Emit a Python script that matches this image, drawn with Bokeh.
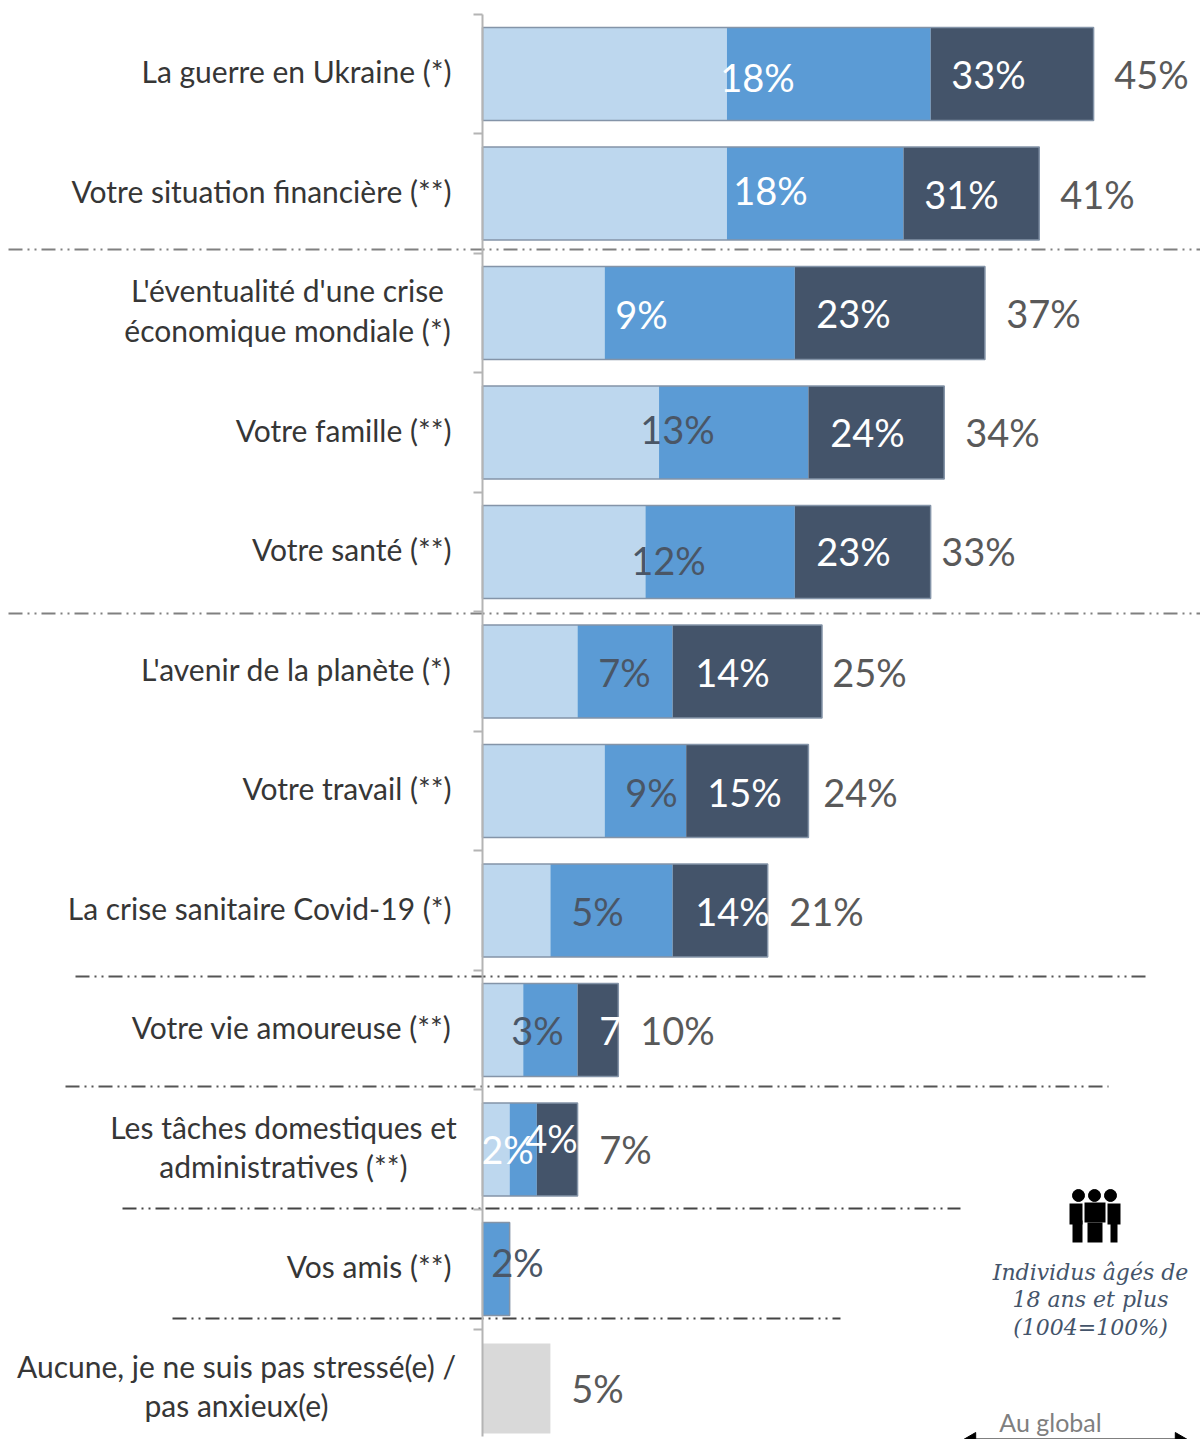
from bokeh.plotting import figure
from bokeh.models import FixedTicker, ColumnDataSource, Range1d
from bokeh.core.properties import value
from bokeh.embed import file_html
from bokeh.resources import INLINE

# ---- data ----
categories = ["La guerre en Ukraine (*)", "Votre situation financière (**)",
              "L'éventualité d'une crise\néconomique mondiale (*)", "Votre famille (**)",
              "Votre santé (**)", "L'avenir de la planète (*)", "Votre travail (**)",
              "La crise sanitaire Covid-19 (*)", "Votre vie amoureuse (**)",
              "Les tâches domestiques et\nadministratives (**)", "Vos amis (**)",
              "Aucune, je ne suis pas stressé(e) /\npas anxieux(e)"]
light = [18, 18, 9, 13, 12, 7, 9, 5, 3, 2, 0, 0]
mid = [15, 13, 14, 11, 11, 7, 6, 9, 4, 2, 2, 0]
dark = [12, 10, 14, 10, 10, 11, 9, 7, 3, 3, 0, 0]
grey = [0, 0, 0, 0, 0, 0, 0, 0, 0, 0, 0, 5]
label_a = ["18%", "18%", "9%", "13%", "12%", "7%", "9%", "5%", "3%", "2%", "2%", ""]
label_b = ["33%", "31%", "23%", "24%", "23%", "14%", "15%", "14%", "7%", "4%", "", ""]
label_total = ["45%", "41%", "37%", "34%", "33%", "25%", "24%", "21%", "10%", "7%", "", "5%"]

# ---- layout (pixel helpers) ----
W, H = 1200, 1439
SX, SY = 13.58, 119.5
def X(px): return (px - 482) / SX
def Y(py): return (py - 73.5) / SY
rows = list(range(len(categories)))

p = figure(width=W, height=H, output_backend="svg", toolbar_location=None,
           x_range=Range1d(X(0), X(W)), y_range=Range1d(Y(H), Y(0)),
           min_border=0, outline_line_color=None)
p.grid.visible = False
p.xaxis.visible = False

single = [r for r in rows if "\n" not in categories[r]]
lift = 0.025
tick_pos = {r: round(r - lift, 3) for r in single}
boundaries = [Y(v) for v in [14, 133, 253, 372, 492, 611, 731, 850, 970, 1089, 1209, 1329]]
ax = p.yaxis[0]
ax.fixed_location = 0
ax.ticker = FixedTicker(ticks=list(tick_pos.values()), minor_ticks=boundaries)
ax.major_label_overrides = {tick_pos[r]: categories[r] for r in single}
ax.major_label_text_font = "Lato"
ax.major_label_text_font_size = "30px"
ax.major_label_text_color = "#363636"
ax.major_label_standoff = 22
ax.major_tick_line_color = None
ax.major_tick_in = 0
ax.major_tick_out = 0
ax.minor_tick_in = 0
ax.minor_tick_out = 9
ax.minor_tick_line_color = "#b4b4b4"
ax.minor_tick_line_width = 2
ax.axis_line_color = "#b4b4b4"
ax.axis_line_width = 2
ax.bounds = (Y(14), Y(1436))

# ---- bars ----
cum1 = light
cum2 = [a + b for a, b in zip(light, mid)]
cum3 = [a + b for a, b in zip(cum2, dark)]
src = ColumnDataSource(dict(y=rows, l0=[0] * 12, c1=cum1, c2=cum2, c3=cum3))
h = 93 / SY
p.hbar(y="y", left="l0", right="c1", height=h, source=src, fill_color="#bdd7ee", line_color=None)
p.hbar(y="y", left="c1", right="c2", height=h, source=src, fill_color="#5b9bd5", line_color=None)
p.hbar(y="y", left="c2", right="c3", height=h, source=src, fill_color="#44546a", line_color=None)
p.hbar(y=rows[:11], left=0, right=cum3[:11], height=h, fill_color=None, line_color="#8494a8", line_width=1.5)
p.hbar(y=rows, left=0, right=grey, height=90 / SY, fill_color="#d9d9d9", line_color=None)

# ---- separators ----
sep = [(8, 1200, 249, "#808080"), (8, 1200, 613, "#808080"), (75, 1150, 976, "#555555"),
       (65, 1108, 1086, "#555555"), (122, 960, 1208, "#444444"), (172, 840, 1318, "#444444")]
p.segment(x0=[X(s[0]) for s in sep], x1=[X(s[1]) for s in sep],
          y0=[Y(s[2]) for s in sep], y1=[Y(s[2]) for s in sep],
          line_color=[s[3] for s in sep], line_width=2, line_dash="14 5 2 5 2 5")

# ---- two-line category labels ----
multi = [r for r in rows if "\n" in categories[r]]
multi_px = {2: 287, 9: 283, 11: 236}
p.text(x=[X(multi_px[r]) for r in multi], y=[r - lift for r in multi], text=[categories[r] for r in multi],
       text_align="center", text_baseline="middle", text_font=value("Lato"), text_font_size="30px",
       text_color="#363636", text_line_height=1.09)

# ---- value labels ----
f = dict(text_align="center", text_baseline="middle", text_font=value("Lato"), text_font_size="38px")
a_px = [757, 770, 641, 677, 668, 624, 651, 597, 537, 507, 517, 0]
a_py = [76, 189, 313, 428, 559, 671, 791, 910, 1029, 1148, 1261, 0]
a_col = ["#ffffff", "#ffffff", "#ffffff", "#4a5666", "#4a5666", "#4a5666", "#4a5666", "#4a5666", "#4a5666", "#ffffff", "#4a5666", "#ffffff"]
b_px = [988, 961, 853, 867, 853, 732, 744, 732, 625, 551, 0, 0]
b_py = [73, 193, 312, 431, 550, 671, 791, 910, 1029, 1137, 0, 0]
t_px = [1151, 1097, 1043, 1002, 978, 869, 860, 826, 677, 625, 0, 597]
t_py = [73, 193, 312, 431, 550, 671, 791, 910, 1029, 1148, 0, 1387]
def put(xs, ys, texts, cols):
    keep = [i for i in rows if texts[i]]
    p.text(x=[X(xs[i]) for i in keep], y=[Y(ys[i]) for i in keep], text=[texts[i] for i in keep],
           text_color=[cols[i] for i in keep], **f)
put(a_px, a_py, label_a, a_col)
put(b_px, b_py, label_b, ["#ffffff"] * 12)
put(t_px, t_py, label_total, ["#595959"] * 12)

# ---- people icon ----
p.scatter(x=[X(1078), X(1094), X(1110)], y=[Y(1195)] * 3, size=12, color="#000000")
p.quad(left=[X(1069), X(1072), X(1084), X(1087), X(1107), X(1110)],
       right=[X(1082), X(1082), X(1105), X(1102), X(1120), X(1117)],
       top=[Y(1203), Y(1220), Y(1202), Y(1222), Y(1203), Y(1220)],
       bottom=[Y(1224), Y(1242), Y(1222), Y(1242), Y(1224), Y(1242)],
       fill_color="#000000", line_color=None)

# ---- note ----
note = ["Individus âgés de", "18 ans et plus", "(1004=100%)"]
p.text(x=[X(1090)] * 3, y=[Y(1272), Y(1299), Y(1327)], text=note, text_align="center",
       text_baseline="middle", text_font=value("DejaVu Serif"), text_font_style="italic",
       text_font_size="22px", text_color="#44546a")
p.text(x=[X(1050)], y=[Y(1421)], text=["Au global"], text_align="center", text_baseline="middle",
       text_font=value("Lato"), text_font_size="25px", text_color="#7f7f7f")
p.segment(x0=[X(975)], x1=[X(1180)], y0=[Y(1438)], y1=[Y(1438)], line_color="#808080", line_width=1)
p.scatter(x=[X(970), X(1180)], y=[Y(1441)] * 2, size=18, marker="triangle", color="#000000",
          angle=[1.5708, -1.5708])

open("out.html", "w").write(file_html(p, INLINE))
